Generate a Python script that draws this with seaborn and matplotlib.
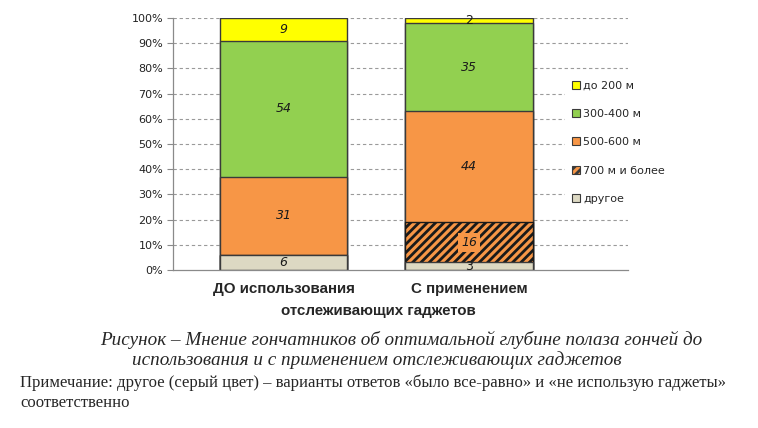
import numpy as np
import pandas as pd
import matplotlib
matplotlib.use('Agg')
import matplotlib.pyplot as plt
import seaborn as sns
from matplotlib.patches import Patch

# ============================================================
# данные
# ============================================================
groups = ['ДО использования', 'С применением']
series_names = ['до 200 м', '300-400 м', '500-600 м', '700 м и более', 'другое']
do_200 = [9, 2]
m_300_400 = [54, 35]
m_500_600 = [31, 44]
m_700_plus = [0, 16]
other = [6, 3]

colors = ['#FFFF00', '#92D050', '#F79646', '#F79646', '#DDD9C3']
hatches = [None, None, None, '////', None]

sns.set_theme(style='white')
plt.rcParams['font.family'] = ['DejaVu Sans']
plt.rcParams['hatch.linewidth'] = 2.0

# снизу вверх: другое, 700+, 500-600, 300-400, до 200
stack = [other, m_700_plus, m_500_600, m_300_400, do_200]
stack_colors = colors[::-1]
stack_hatches = hatches[::-1]
cum = np.cumsum(np.array(stack), axis=0)

fig = plt.figure(figsize=(7.58, 4.28), dpi=100)
ax = fig.add_axes([0.2282, 0.3692, 0.6003, 0.5888])

# сетка
for v in range(10, 101, 10):
    ax.axhline(v, color='#9A9A9A', lw=0.8, ls=(0, (3, 2.5)), zorder=0)

# столбцы: рисуем накопленные суммы сверху вниз
bar_w = 0.685
for i in range(len(stack) - 1, -1, -1):
    df = pd.DataFrame({'group': groups, 'value': cum[i]})
    sns.barplot(data=df, x='group', y='value', ax=ax, color=stack_colors[i],
                saturation=1, width=bar_w, errorbar=None,
                edgecolor='#3A3A3A', linewidth=1.0, zorder=2)
    if stack_hatches[i]:
        for p in ax.patches[-len(groups):]:
            p.set_hatch(stack_hatches[i])
            p.set_edgecolor('#1A1A1A')

# подписи значений
for i in range(len(stack)):
    for j in range(len(groups)):
        val = stack[i][j]
        if val == 0:
            continue
        mid = cum[i][j] - val / 2
        style = 'italic' if val > 5 else 'normal'
        kw = {}
        if stack_hatches[i]:
            kw['bbox'] = dict(boxstyle='square,pad=0.25', fc='#F79646', ec='none')
        ax.text(j, mid, str(val), ha='center', va='center', fontsize=9,
                style=style, color='#1A1A1A', zorder=5, **kw)

ax.set_xlim(-0.5957, 1.857)
ax.set_ylim(0, 100)
ax.set_yticks(range(0, 101, 10))
ax.set_yticklabels([f'{v}%' for v in range(0, 101, 10)], fontsize=8, color='#222222')
ax.set_xticks([0, 1])
ax.set_xticklabels(groups, fontsize=10.9, fontweight='bold', family='Liberation Sans')
ax.set_xlabel('')
ax.set_ylabel('')
ax.tick_params(axis='y', length=4, width=0.8, color='#8A8A8A', left=True, pad=3)
ax.tick_params(axis='x', length=0, pad=9)
for s in ['top', 'right']:
    ax.spines[s].set_visible(False)
for s in ['left', 'bottom']:
    ax.spines[s].set_color('#8A8A8A')
    ax.spines[s].set_linewidth(0.9)

# легенда
handles = [Patch(facecolor=c, edgecolor='#3A3A3A', hatch=h, linewidth=0.8)
           for c, h in zip(colors, hatches)]
leg = ax.legend(handles, series_names, loc='upper left',
                bbox_to_anchor=(565 / 758, 1 - 74 / 428),
                bbox_transform=fig.transFigure, frameon=True, fontsize=8,
                handlelength=0.72, handleheight=0.72, handletextpad=0.3,
                labelspacing=1.65, borderpad=0.6, borderaxespad=0)
leg.get_frame().set_facecolor('white')
leg.get_frame().set_edgecolor('none')
leg.get_frame().set_alpha(1)

fig.text(378 / 758, 1 - 311 / 428, 'отслеживающих гаджетов', ha='center', va='center',
         fontsize=10.9, fontweight='bold', family='Liberation Sans')

# подпись рисунка
fig.text(401 / 758, 1 - 340 / 428,
         'Рисунок – Мнение гончатников об оптимальной глубине полаза гончей до',
         ha='center', va='center', fontsize=13.8, style='italic', family='Liberation Serif')
fig.text(377 / 758, 1 - 360 / 428,
         'использования и с применением отслеживающих гаджетов',
         ha='center', va='center', fontsize=13.8, style='italic', family='Liberation Serif')
fig.text(20 / 758, 1 - 383 / 428,
         'Примечание: другое (серый цвет) – варианты ответов «было все-равно» и «не использую гаджеты»',
         ha='left', va='center', fontsize=12, family='Liberation Serif')
fig.text(20 / 758, 1 - 403 / 428, 'соответственно',
         ha='left', va='center', fontsize=12, family='Liberation Serif')

fig.savefig('out.png', dpi=100)
